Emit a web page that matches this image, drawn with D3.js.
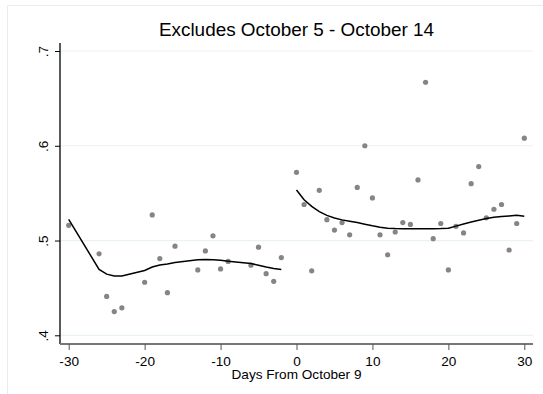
<!DOCTYPE html>
<html lang="en">
<head>
    <meta charset="UTF-8">
    <title>Excludes October 5 - October 14</title>
    <script src="https://d3js.org/d3.v7.min.js"></script>
    <style>
        body {
            margin: 0;
            padding: 0;
            background-color: #fff;
            font-family: Arial, "Liberation Sans", sans-serif;
        }
        svg { display: block; }
    </style>
</head>
<body>
    <svg id="chart" width="543" height="394"></svg>

    <script>
        // Scatter points: day relative to October 9, and value
        const pointDays = [-30, -26, -25, -24, -23, -20, -19, -18, -17, -16, -13, -12, -11, -10, -9, -6, -5, -4, -3, -2,
                           0, 1, 2, 3, 4, 5, 6, 7, 8, 9, 10, 11, 12, 13, 14, 15, 16, 17, 18, 19, 20, 21, 22, 23, 24, 25, 26, 27, 28, 29, 30];
        const pointValues = [0.516, 0.486, 0.441, 0.425, 0.429, 0.456, 0.527, 0.481, 0.445, 0.494, 0.469, 0.489, 0.505, 0.470, 0.478, 0.474, 0.493, 0.465, 0.457, 0.482,
                             0.572, 0.538, 0.468, 0.553, 0.522, 0.511, 0.519, 0.506, 0.556, 0.600, 0.545, 0.506, 0.485, 0.509, 0.519, 0.517, 0.564, 0.667, 0.502, 0.518, 0.469, 0.515, 0.508, 0.560, 0.578, 0.524, 0.533, 0.538, 0.490, 0.518, 0.608];

        // Smoothed fit before the gap
        const fitBeforeDays = [-30, -26, -25, -24, -23, -20, -19, -18, -17, -16, -13, -12, -11, -10, -9, -6, -5, -4, -3, -2];
        const fitBeforeValues = [0.5224, 0.4695, 0.4645, 0.4625, 0.4627, 0.4684, 0.4721, 0.4741, 0.4752, 0.4768, 0.4797, 0.4801, 0.4798, 0.4791, 0.4782, 0.4757, 0.4740, 0.4720, 0.4705, 0.4695];

        // Smoothed fit after the gap
        const fitAfterDays = [0, 1, 2, 3, 4, 5, 6, 7, 8, 9, 10, 11, 12, 13, 14, 15, 16, 17, 18, 19, 20, 21, 22, 23, 24, 25, 26, 27, 28, 29, 30];
        const fitAfterValues = [0.5533, 0.5430, 0.5360, 0.5305, 0.5265, 0.5238, 0.5218, 0.5204, 0.5190, 0.5172, 0.5155, 0.5140, 0.5130, 0.5126, 0.5125, 0.5125, 0.5125, 0.5125, 0.5125, 0.5126, 0.5129, 0.5152, 0.5175, 0.5195, 0.5213, 0.5232, 0.5245, 0.5254, 0.5260, 0.5266, 0.5255];

        const xTicks = [-30, -20, -10, 0, 10, 20, 30];
        const yTicks = [0.4, 0.5, 0.6, 0.7];
        const yTickLabels = ['.4', '.5', '.6', '.7'];

        const title = 'Excludes October 5 - October 14';
        const xTitle = 'Days From October 9';

        const svg = d3.select('#chart');

        // Plot area
        const plotLeft = 60, plotRight = 533, plotTop = 43, plotBottom = 344;

        const x = d3.scaleLinear().domain([-30, 30]).range([68.7, 524.3]);
        const y = d3.scaleLinear().domain([0.4, 0.7]).range([335.3, 51]);

        // Outer frame
        svg.append('rect')
            .attr('x', 7.5).attr('y', 5.5)
            .attr('width', 545).attr('height', 400)
            .attr('fill', 'none')
            .attr('stroke', '#e6eef0')
            .attr('stroke-width', 1);

        // Grid lines
        svg.append('g')
            .selectAll('line')
            .data(yTicks)
            .enter()
            .append('line')
            .attr('x1', plotLeft)
            .attr('x2', plotRight)
            .attr('y1', d => y(d))
            .attr('y2', d => y(d))
            .attr('stroke', '#eaf2f3')
            .attr('stroke-width', 1.2);

        // Y axis
        const yAxis = svg.append('g')
            .attr('transform', `translate(${plotLeft},0)`)
            .call(d3.axisLeft(y).tickValues(yTicks).tickSize(5).tickFormat((d, i) => yTickLabels[i]));
        yAxis.select('.domain')
            .attr('d', `M0,${plotTop}V${plotBottom}`)
            .attr('stroke', '#000')
            .attr('stroke-width', 1.3);
        yAxis.selectAll('.tick line').attr('stroke', '#000');
        yAxis.selectAll('.tick text')
            .attr('font-family', 'Arial, "Liberation Sans", sans-serif')
            .attr('font-size', 13.6)
            .attr('fill', '#000')
            .attr('text-anchor', 'middle')
            .attr('x', null)
            .attr('dy', null)
            .attr('transform', 'translate(-12,0) rotate(-90)');

        // X axis (plain hyphen for negatives, as in the original)
        const xAxis = svg.append('g')
            .attr('transform', `translate(0,${plotBottom})`)
            .call(d3.axisBottom(x).tickValues(xTicks).tickSize(6).tickFormat(d => String(d)));
        xAxis.select('.domain')
            .attr('d', `M${plotLeft},0H${plotRight}`)
            .attr('stroke', '#777')
            .attr('stroke-width', 2);
        xAxis.selectAll('.tick line').attr('stroke', '#555');
        xAxis.selectAll('.tick text')
            .attr('font-family', 'Arial, "Liberation Sans", sans-serif')
            .attr('font-size', 13.6)
            .attr('fill', '#000')
            .attr('dy', null)
            .attr('y', 21.5);

        // Scatter points
        svg.append('g')
            .selectAll('circle')
            .data(pointDays.map((d, i) => ({ day: d, value: pointValues[i] })))
            .enter()
            .append('circle')
            .attr('cx', d => x(d.day))
            .attr('cy', d => y(d.value))
            .attr('r', 2.6)
            .attr('fill', '#858585');

        // Smoothed lines
        const line = d3.line()
            .x(d => x(d[0]))
            .y(d => y(d[1]));

        [[fitBeforeDays, fitBeforeValues], [fitAfterDays, fitAfterValues]].forEach(([days, vals]) => {
            svg.append('path')
                .datum(days.map((d, i) => [d, vals[i]]))
                .attr('d', line)
                .attr('fill', 'none')
                .attr('stroke', '#000')
                .attr('stroke-width', 1.5);
        });

        // Title
        svg.append('text')
            .attr('x', (plotLeft + plotRight) / 2)
            .attr('y', 36)
            .attr('text-anchor', 'middle')
            .attr('font-size', 18.9)
            .attr('fill', '#000')
            .text(title);

        // X axis title
        svg.append('text')
            .attr('x', (plotLeft + plotRight) / 2)
            .attr('y', 379)
            .attr('text-anchor', 'middle')
            .attr('font-size', 13.6)
            .attr('fill', '#000')
            .text(xTitle);
    </script>
</body>
</html>
